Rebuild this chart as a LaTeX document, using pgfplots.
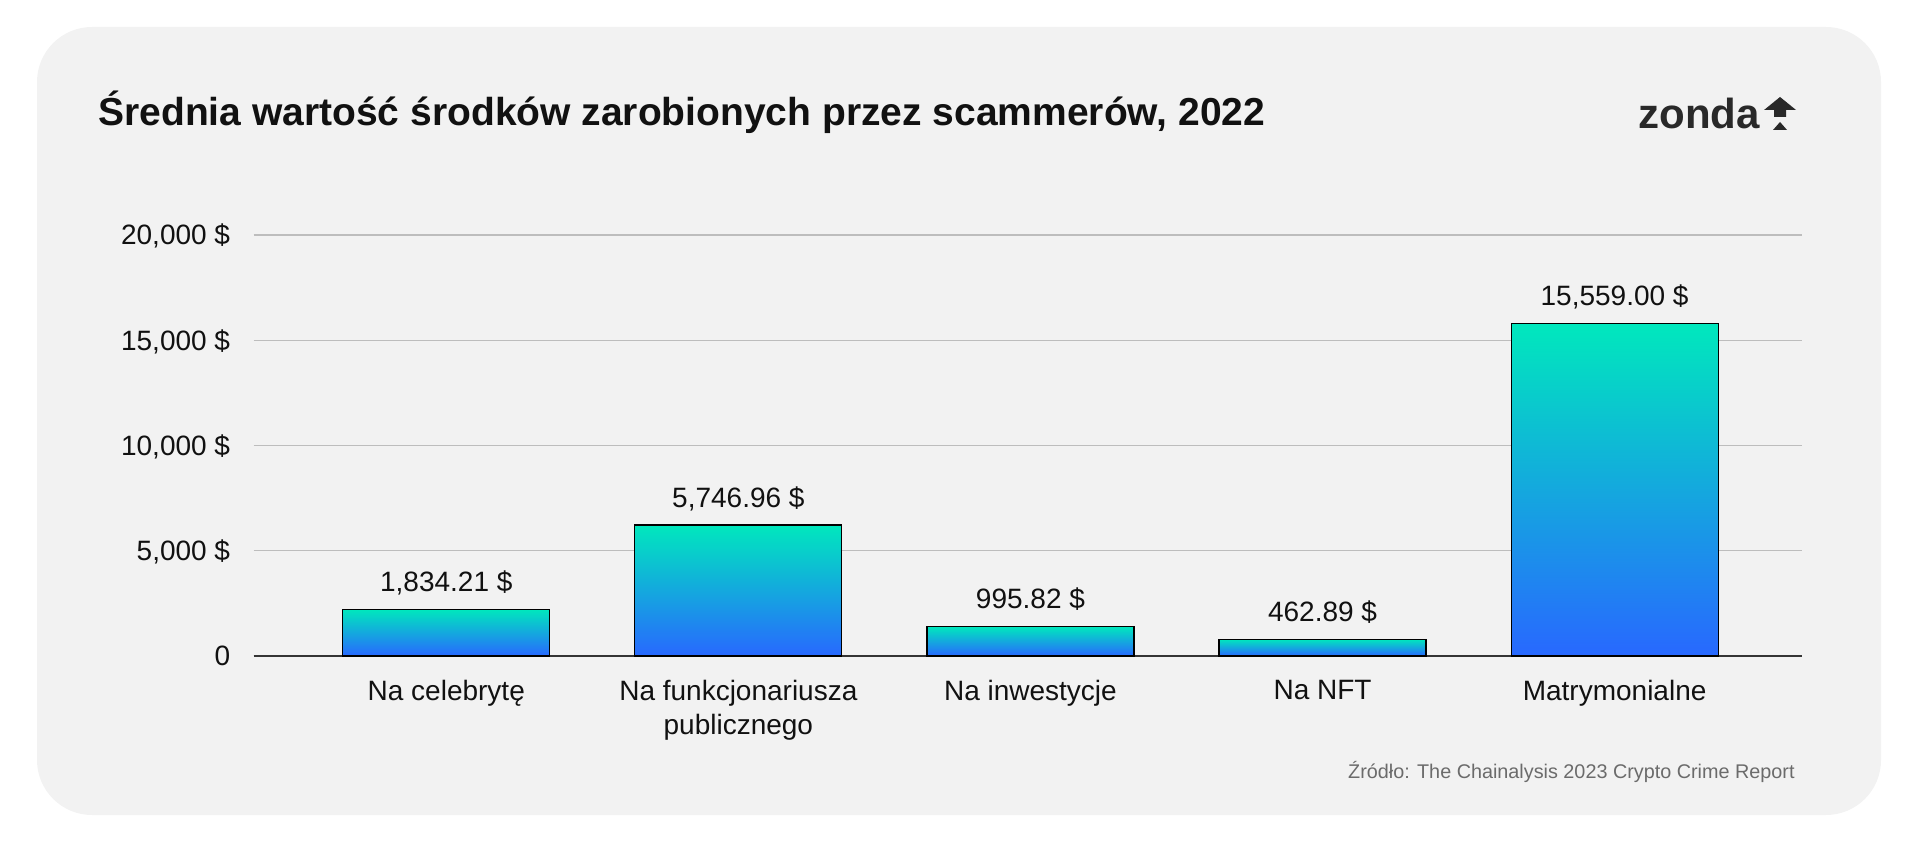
\documentclass[border=0pt]{standalone}
\usepackage{fontspec}
\setmainfont{Liberation Sans}
\usepackage{pgfplots}
\pgfplotsset{compat=1.18}
\definecolor{card}{HTML}{F2F2F2}
\definecolor{bartop}{HTML}{00E8BD}
\definecolor{barbot}{HTML}{2868FF}
\definecolor{gridc}{HTML}{BDBDBD}
\definecolor{ink}{HTML}{111111}
\definecolor{src}{HTML}{6B6B6B}

\pgfplotsset{
  onebar/.style={ybar, bar width=103.5bp, bar shift=0pt,
    draw=black, line width=0.6bp,
    top color=bartop, bottom color=barbot,
    point meta=explicit symbolic,
    nodes near coords={\pgfplotspointmeta},
    every node near coord/.append style={anchor=base, inner sep=0pt, yshift=9bp,
        text=ink, font=\fontsize{14bp}{17bp}\selectfont}},
}

\begin{document}
\begin{tikzpicture}
\begin{scope}[x=0.5bp,y=0.5bp]
% page and card (1 unit = 1 px of the reference)
\path (0,0) rectangle (1920,843);
\fill[card, rounded corners=27.5bp] (37,28) rectangle (1881,816);

% title
\node[anchor=base west, inner sep=0, text=ink,
      font=\fontsize{19.5bp}{22bp}\selectfont\bfseries] at (98,717)
  {Średnia wartość środków zarobionych przez scammerów, 2022};

% logo
\node[anchor=base west, inner sep=0, text=ink!90,
      font=\fontsize{21bp}{24bp}\selectfont\bfseries] at (1638,714) {zonda};
\fill[ink!90] (1780,746) -- (1796,733) -- (1786,733) -- (1786,726)
  -- (1774,726) -- (1774,733) -- (1764,733) -- cycle;
\fill[ink!90] (1773,713) -- (1787,713) -- (1780,721) -- cycle;

% source
\node[anchor=base east, inner sep=0, text=src,
      font=\fontsize{9.9bp}{11bp}\selectfont] at (1795,65)
  {Źródło: The Chainalysis 2023 Crypto Crime Report};
\end{scope}

\begin{axis}[
    at={(126.75bp,93.5bp)}, anchor=south west,
    scale only axis,
    width=774bp, height=210.5bp,
    xmin=-0.66, xmax=4.64,
    ymin=0, ymax=20000,
    scaled y ticks=false,
    axis x line*=bottom, axis y line*=left,
    y axis line style={draw=none},
    x axis line style={draw=ink!85, line width=0.8bp},
    major tick length=0pt,
    ymajorgrids=true,
    grid style={gridc, line width=0.6bp},
    xtick={0,1,2,3,4},
    xticklabels={Na celebrytę, {Na funkcjonariusza\\publicznego}, Na inwestycje, Na NFT, Matrymonialne},
    ytick={0,5000,10000,15000,20000},
    yticklabels={0, {5,000 \$}, {10,000 \$}, {15,000 \$}, {20,000 \$}},
    xticklabel style={anchor=north, inner sep=0pt, yshift=-12bp, align=center,
        text=ink, font=\fontsize{14bp}{17bp}\selectfont},
    yticklabel style={anchor=base east, inner sep=0pt, xshift=-11.5bp, yshift=-5bp,
        text=ink, font=\fontsize{14bp}{17bp}\selectfont},
    clip=false,
]
\addplot[onebar] coordinates {(0,2220)  [{1,834.21 \$}]};
\addplot[onebar] coordinates {(1,6220)  [{5,746.96 \$}]};
\addplot[onebar] coordinates {(2,1400)  [{995.82 \$}]};
\addplot[onebar] coordinates {(3,800)   [{462.89 \$}]};
\addplot[onebar] coordinates {(4,15800) [{15,559.00 \$}]};
\end{axis}
\end{tikzpicture}
\end{document}
